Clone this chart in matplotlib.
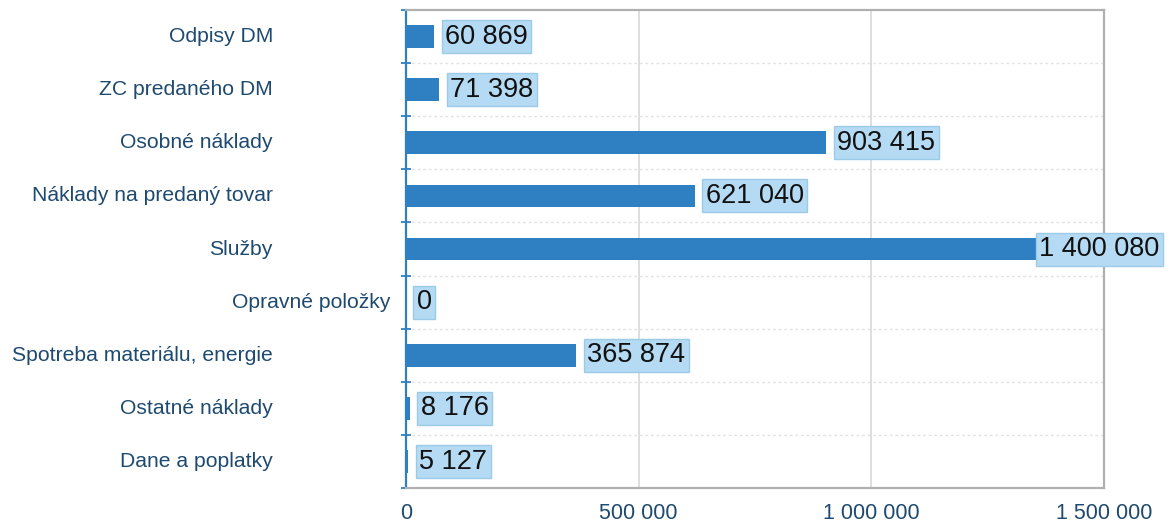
import matplotlib.pyplot as plt
from matplotlib.transforms import blended_transform_factory, offset_copy

plt.rcParams['font.family'] = ['Liberation Sans', 'DejaVu Sans']

categories = ['Odpisy DM', 'ZC predaného DM', 'Osobné náklady',
              'Náklady na predaný tovar', 'Služby', 'Opravné položky',
              'Spotreba materiálu, energie', 'Ostatné náklady', 'Dane a poplatky']
values = [60869, 71398, 903415, 621040, 1400080, 0, 365874, 8176, 5127]
value_labels = ['60 869', '71 398', '903 415', '621 040', '1 400 080', '0',
                '365 874', '8 176', '5 127']
xticks = [0, 500000, 1000000, 1500000]
xtick_labels = ['0', '500 000', '1 000 000', '1 500 000']

bar_color = '#2e80c3'
text_blue = '#1f4a70'

fig = plt.figure(figsize=(11.73, 5.26), dpi=100)
ax = fig.add_axes([0.346, 0.072, 0.595, 0.909])

y = list(range(len(categories)))
ax.barh(y, values, height=0.43, color=bar_color, zorder=2)
ax.set_ylim(len(categories) - 0.5, -0.5)
ax.set_xlim(0, 1500000)

# grid
ax.set_xticks(xticks)
ax.set_xticklabels(xtick_labels, fontsize=15.5, color=text_blue)
ax.xaxis.grid(True, color='#d8d8d8', linewidth=1.2, zorder=0)
ax.tick_params(axis='x', length=0, pad=11)
for b in [i + 0.5 for i in range(len(categories) - 1)]:
    ax.axhline(b, color='#e2e2e2', linewidth=1, linestyle=(0, (2, 2)), zorder=0)

# y ticks at category boundaries
ax.set_yticks([])
ax.set_yticks([i - 0.5 for i in range(len(categories) + 1)], minor=True)
ax.tick_params(axis='y', which='minor', direction='inout', length=7,
               width=1.3, color=bar_color)

for side in ['top', 'right', 'bottom']:
    ax.spines[side].set_color('#b0b0b0')
    ax.spines[side].set_linewidth(1.6)
ax.spines['left'].set_color(bar_color)
ax.spines['left'].set_linewidth(1.6)

# category labels
tr = blended_transform_factory(ax.transAxes, ax.transData)
for i, cat in enumerate(categories):
    xpos = -0.0229 if cat == 'Opravné položky' else -0.1905
    ax.text(xpos, i, cat, transform=tr, ha='right', va='center',
            fontsize=15.2, color=text_blue)

# value labels
for i, (v, lab) in enumerate(zip(values, value_labels)):
    dx = -18 if v > 1300000 else 11
    t = offset_copy(ax.transData, fig=fig, x=dx, y=0, units='dots')
    ax.text(v, i, lab, transform=t, ha='left', va='center', fontsize=19.5,
            color='#111111', zorder=4,
            bbox=dict(boxstyle='square,pad=0.13', facecolor='#b5daf3',
                      edgecolor='#9ccbe8', linewidth=1))

fig.savefig('out.png', dpi=100)
